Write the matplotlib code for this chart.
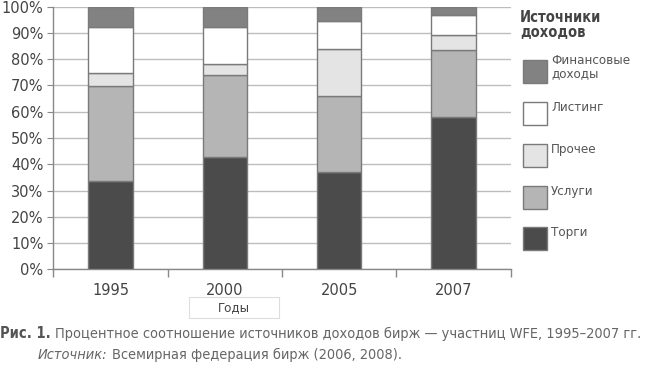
import matplotlib.pyplot as plt
import numpy as np
from matplotlib import font_manager

years = ["1995", "2000", "2005", "2007"]
categories = ["Торги", "Услуги", "Прочее", "Листинг", "Финансовые\nдоходы"]
torgi = [33.6, 42.9, 37.1, 57.9]
uslugi = [36.2, 31.1, 28.9, 25.8]
prochee = [5.1, 4.2, 17.9, 5.4]
listing = [17.5, 14.2, 10.5, 7.6]
finansy = [7.6, 7.6, 5.6, 3.3]
colors = ["#4b4b4b", "#b5b5b5", "#e4e4e4", "#ffffff", "#828282"]

# pick a condensed face if there is one
stretch = "normal"
for f in font_manager.fontManager.ttflist:
    if f.name == "DejaVu Sans" and f.stretch in ("condensed", 600, "semi-condensed"):
        stretch = "condensed"
narrow = dict(family=["DejaVu Sans"], fontstretch=stretch)

fig = plt.figure(figsize=(6.5, 3.68), dpi=100)
ax = fig.add_axes([53.3 / 650, 1 - 269.3 / 368, 457.4 / 650, 262.6 / 368])

x = np.arange(len(years)) + 0.5
bottom = np.zeros(len(years))
for vals, col in zip([torgi, uslugi, prochee, listing, finansy], colors):
    ax.bar(x, vals, width=0.39, bottom=bottom, color=col, edgecolor="#7a7a7a",
           linewidth=1, zorder=3)
    bottom += np.array(vals)

ax.set_xlim(0, 4)
ax.set_ylim(0, 100)
ax.set_yticks(range(0, 101, 10))
ax.set_yticklabels([f"{v}%" for v in range(0, 101, 10)])
ax.yaxis.grid(True, color="#bdbdbd", linewidth=1, zorder=0)
ax.set_xticks([0, 1, 2, 3, 4])
ax.set_xticklabels([])
ax.set_xticks(x, minor=True)
ax.set_xticklabels(years, minor=True)
ax.tick_params(axis="x", which="major", length=6, color="#888888", width=1)
ax.tick_params(axis="x", which="minor", length=0, pad=10, labelsize=10.5, labelcolor="#444444")
ax.tick_params(axis="y", length=4, color="#888888", labelsize=10.5, labelcolor="#444444", pad=3)
for s in ["top", "right"]:
    ax.spines[s].set_visible(False)
for s in ["left", "bottom"]:
    ax.spines[s].set_color("#888888")
    ax.spines[s].set_linewidth(1)

renderer = fig.canvas.get_renderer()


def width(t):
    return t.get_window_extent(renderer).width


# legend
fig.text(520 / 650, 1 - 25 / 368, "Источники\nдоходов", fontsize=10.5, fontweight="bold",
         color="#444444", va="center", ha="left", linespacing=1.0, **narrow)
ys = [71, 113, 155, 197, 238]
for i, (lab, col) in enumerate(zip(categories[::-1], colors[::-1])):
    y = ys[i]
    fig.patches.append(plt.Rectangle((523 / 650, 1 - (y + 11.5) / 368), 24 / 650, 23 / 368,
                                     transform=fig.transFigure, facecolor=col,
                                     edgecolor="#7a7a7a", linewidth=1))
    two = "\n" in lab
    ty = y - 4 if two else y - 12
    fig.text(551 / 650, 1 - ty / 368, lab, fontsize=9.5, color="#555555",
             va="center" if two else "top", ha="left", linespacing=1.1, **narrow)

fig.patches.append(plt.Rectangle((189 / 650, 1 - 318 / 368), 90 / 650, 21 / 368,
                                 transform=fig.transFigure, facecolor="white",
                                 edgecolor="#dddddd", linewidth=0.8))
fig.text(234 / 650, 1 - 308 / 368, "Годы", fontsize=9.5, color="#444444", ha="center",
         va="center", **narrow)

# caption
ris = fig.text(0, 1 - 334 / 368, "Рис. 1.", fontsize=10.5, fontweight="bold", color="#555555",
               ha="left", va="center", **narrow)
x0 = width(ris) + 4
cap = fig.text(x0 / 650, 1 - 334 / 368,
               "Процентное соотношение источников доходов бирж — участниц WFE, 1995–2007 гг.",
               fontsize=10.5, color="#666666", ha="left", va="center", **narrow)
w = width(cap)
if x0 + w > 645:
    cap.set_fontsize(10.5 * (645 - x0) / w)
fs = cap.get_fontsize()
src = fig.text(38 / 650, 1 - 355 / 368, "Источник:", fontsize=fs, style="italic",
               color="#666666", ha="left", va="center", **narrow)
fig.text((38 + width(src) + 4) / 650, 1 - 355 / 368, "Всемирная федерация бирж (2006, 2008).",
         fontsize=fs, color="#666666", ha="left", va="center", **narrow)

fig.savefig("out.png", dpi=100)
